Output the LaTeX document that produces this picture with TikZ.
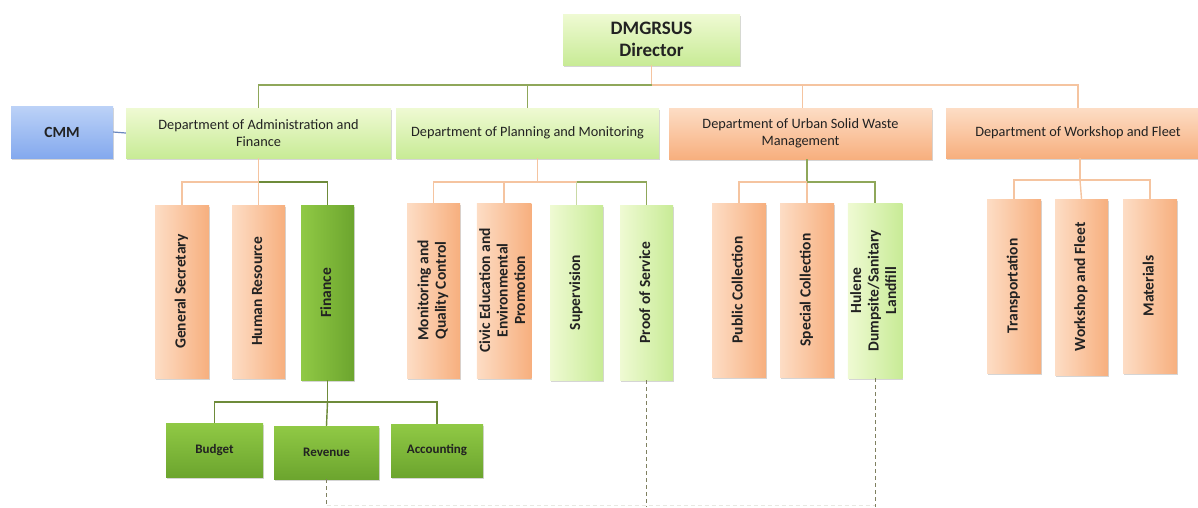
\documentclass[tikz,border=0pt]{standalone}
\usepackage{fontspec}
\usepackage{graphicx}
\setmainfont{Carlito}
\usetikzlibrary{shadows}

% palette
\definecolor{txt}{HTML}{222222}
\definecolor{peachL}{HTML}{FDDDC5}
\definecolor{peachD}{HTML}{F7AF7E}
\definecolor{limeL}{HTML}{EFFAD3}
\definecolor{limeD}{HTML}{C8EB96}
\definecolor{leafL}{HTML}{90C945}
\definecolor{leafD}{HTML}{6CA52E}
\definecolor{skyL}{HTML}{BCD2F7}
\definecolor{skyD}{HTML}{84A9EE}
\definecolor{olive}{HTML}{8FA75A}
\definecolor{oliveD}{HTML}{6E8B3A}
\definecolor{apricot}{HTML}{F5C4A0}
\definecolor{sage}{HTML}{C9D9A4}
\definecolor{dash}{HTML}{7F8060}

\tikzset{
  boxbase/.style={inner sep=1pt, align=center, text=txt,
    drop shadow={shadow xshift=0.8pt, shadow yshift=-2.4pt, opacity=0.3, fill=black!55}},
  deptfont/.style={font=\fontsize{14.3}{17}\selectfont},
  unitfont/.style={font=\bfseries\fontsize{15.5}{17.5}\selectfont},
  deptgreen/.style={boxbase, deptfont, top color=limeL, bottom color=limeD},
  deptorange/.style={boxbase, deptfont, top color=peachL, bottom color=peachD},
  cmmbox/.style={boxbase, top color=skyL, bottom color=skyD, font=\bfseries\fontsize{15.5}{17}\selectfont},
  headbox/.style={boxbase, top color=limeL, bottom color=limeD, font=\bfseries\fontsize{19}{23}\selectfont},
  unitorange/.style={boxbase, unitfont, left color=peachL, right color=peachD},
  unitgreen/.style={boxbase, unitfont, left color=limeL, right color=limeD},
  unitleaf/.style={boxbase, unitfont, left color=leafL, right color=leafD},
  subleaf/.style={boxbase, top color=leafL, bottom color=leafD, font=\bfseries\fontsize{13}{15}\selectfont},
  linkgreen/.style={draw=olive, line width=1.4pt},
  linkdark/.style={draw=oliveD, line width=1.4pt},
  linkorange/.style={draw=apricot, line width=1.4pt},
  linksage/.style={draw=sage, line width=1.4pt},
  linkcmm/.style={draw=skyD!80!black, line width=1.2pt},
  linkdash/.style={draw=dash, line width=1pt, dash pattern=on 4pt off 3pt},
}

% box given by its corners (x1,y1)-(x2,y2), y counted downwards
\newcommand\orgbox[7]{%
  \node[#6, minimum width={(#4-#2)*1pt}, minimum height={(#5-#3)*1pt}]
    (#1) at ({(#2+#4)/2},{(#3+#5)/2}) {#7};}
\newcommand\upright[1]{\rotatebox{90}{\begin{tabular}{@{}c@{}}#1\end{tabular}}}

\begin{document}
\begin{tikzpicture}[x=1pt, y=-1pt]
\useasboundingbox (0,0) rectangle (1198,507);
\clip (0,0) rectangle (1198,507);

% bus levels
\coordinate (busTop) at (0,85);
\coordinate (busMid) at (0,182);
\coordinate (busWs)  at (0,180);
\coordinate (busFin) at (0,402);
\coordinate (edge)   at (0,507);
\coordinate (floor)  at (0,505.5);

% head and departments
\orgbox{dir}{563}{14}{740}{65}{headbox}{DMGRSUS\\[-1pt]Director}
\orgbox{cmm}{11}{106}{113}{158}{cmmbox}{CMM}
\orgbox{adm}{126}{108}{391}{158}{deptgreen}{Department of Administration and\\Finance}
\orgbox{pla}{396}{108}{659}{158}{deptgreen}{Department of Planning and Monitoring}
\orgbox{urb}{669}{108}{932}{159}{deptorange}{Department of Urban Solid Waste\\Management}
\orgbox{wor}{946}{108}{1210}{158}{deptorange}{Department of Workshop and Fleet}

% units
\orgbox{gs}{155}{205}{209}{378}{unitorange}{\upright{General Secretary}}
\orgbox{hr}{232}{205}{285}{378}{unitorange}{\upright{Human Resource}}
\orgbox{fin}{301}{205}{354}{380}{unitleaf}{\upright{Finance}}
\orgbox{mon}{407}{203}{460}{378}{unitorange}{\upright{Monitoring and\\Quality Control}}
\orgbox{civ}{477}{203}{531}{378}{unitorange}{\upright{Civic Education and\\Environmental\\Promotion}}
\orgbox{sup}{550}{205}{603}{380}{unitgreen}{\upright{Supervision}}
\orgbox{pro}{620}{205}{673}{380}{unitgreen}{\upright{Proof of Service}}
\orgbox{pub}{712}{203}{766}{377}{unitorange}{\upright{Public Collection}}
\orgbox{spe}{780}{203}{834}{377}{unitorange}{\upright{Special Collection}}
\orgbox{hul}{848}{203}{902}{378}{unitgreen}{\upright{Hulene\\Dumpsite/Sanitary\\Landfill}}
\orgbox{tra}{987}{199}{1041}{373}{unitorange}{\upright{Transportation}}
\orgbox{wf}{1055}{199}{1108}{375}{unitorange}{\upright{Workshop and Fleet}}
\orgbox{mat}{1123}{199}{1177}{373}{unitorange}{\upright{Materials}}

% finance sections
\orgbox{bud}{166}{423}{263}{477}{subleaf}{Budget}
\orgbox{rev}{274}{426}{379}{479}{subleaf}{Revenue}
\orgbox{acc}{391}{424}{483}{477}{subleaf}{Accounting}

% director to departments
\draw[linkorange] (dir.south) -- (dir.south |- busTop);
\draw[linkgreen] (dir.south |- busTop) -| (adm.north);
\draw[linkgreen] (pla.north |- busTop) -- (pla.north);
\draw[linkorange] (dir.south |- busTop) -| (wor.north);
\draw[linkorange] ([xshift=2pt]urb.north |- busTop) -- ([xshift=2pt]urb.north);
\draw[linkcmm] (cmm.east) -- (adm.west);

% administration and finance
\draw[linkorange] (adm.south) -- (adm.south |- busMid) -| (gs.north);
\draw[linkorange] (adm.south |- busMid) -- (hr.north);
\draw[linkdark] (adm.south |- busMid) -| (fin.north);

% planning and monitoring
\coordinate (pj) at ([xshift=10pt]pla.south);
\draw[linkorange] (pj) -- (pj |- busMid) -| (mon.north);
\draw[linkorange] (civ.north |- busMid) -- (civ.north);
\draw[linkorange] (pj |- busMid) -- (sup.north |- busMid);
\draw[linksage] (sup.north |- busMid) -- (sup.north);
\draw[linkgreen] (sup.north |- busMid) -| (pro.north);

% urban solid waste
\coordinate (uj) at ([xshift=6.5pt]urb.south);
\draw[linkgreen] (uj) -- (uj |- busMid);
\draw[linkorange] (uj |- busMid) -| (pub.north);
\draw[linkorange] (uj |- busMid) -- (spe.north);
\draw[linkgreen] (uj |- busMid) -| (hul.north);

% workshop and fleet
\coordinate (wj) at ([xshift=2pt]wor.south);
\draw[linkorange] (wj) -- (wj |- busWs) -| (tra.north);
\draw[linkorange] (wj |- busWs) -| (mat.north);
\draw[linkorange] (wj |- busWs) -- (wf.north);

% finance sections
\draw[linkdark] (fin.south) -- (fin.south |- busFin) -| (bud.north);
\draw[linkdark] (fin.south |- busFin) -| (acc.north);
\draw[linkdark] (fin.south |- busFin) -- (rev.north);

% dashed continuations
\draw[linkdash] (rev.south) -- (rev.south |- edge);
\draw[linkdash] (pro.south) -- (pro.south |- edge);
\draw[linkdash] (hul.south) -- (hul.south |- edge);
\draw[linkdash, draw=dash!18] (rev.south |- floor) -- (hul.south |- floor);
\end{tikzpicture}
\end{document}
